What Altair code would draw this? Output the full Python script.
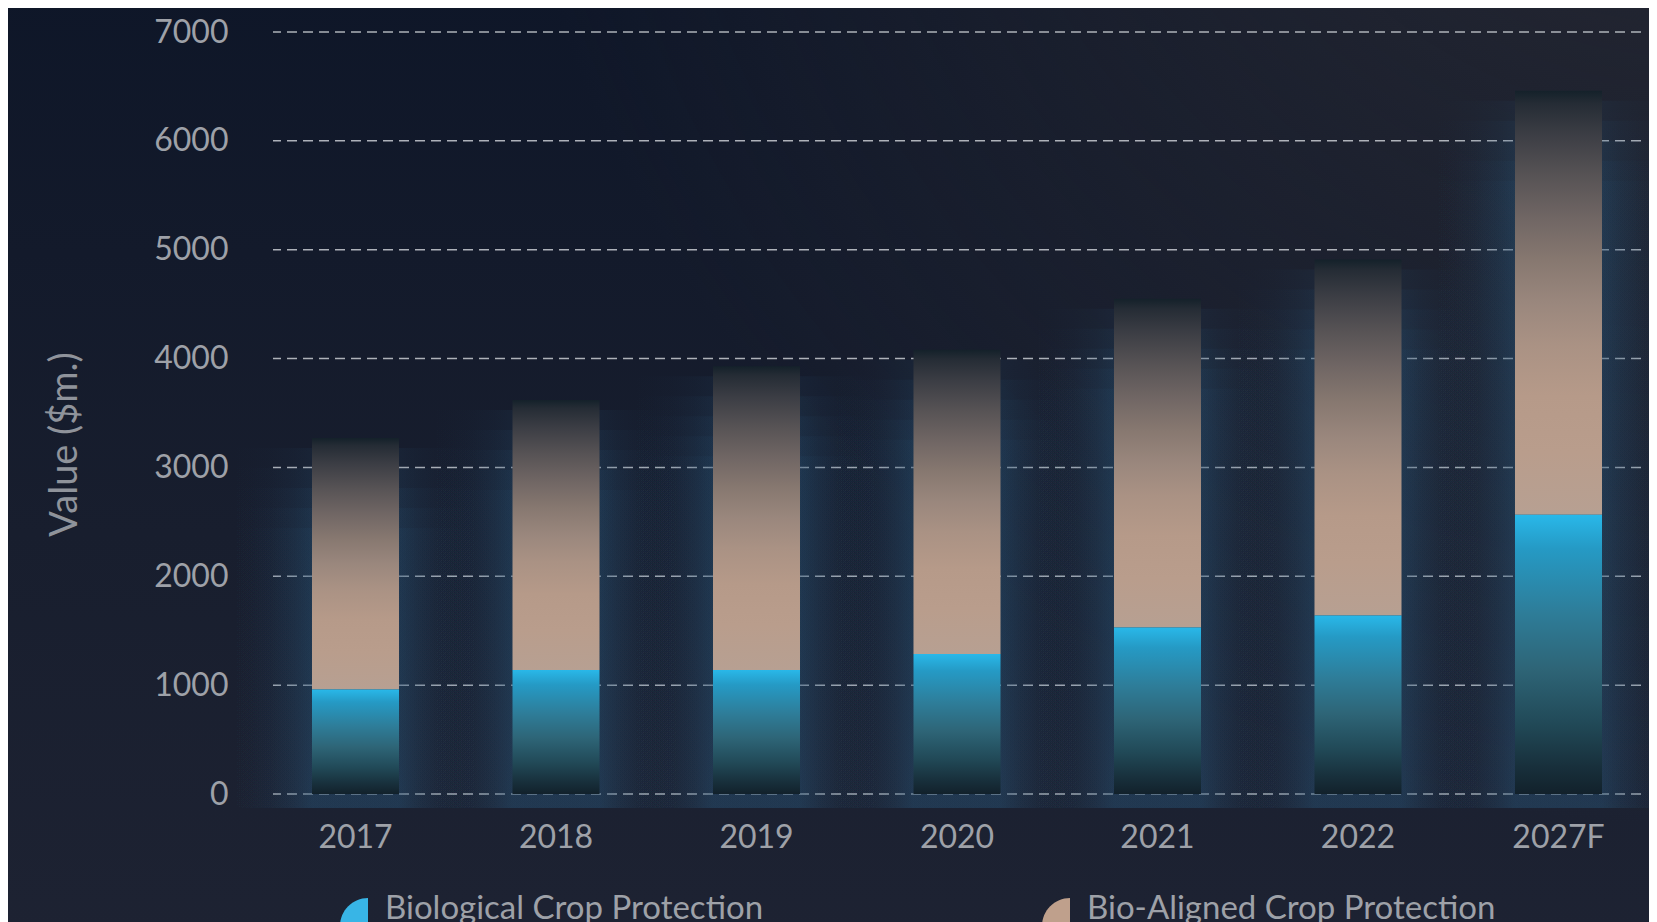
import altair as alt
import pandas as pd

# ---- data ----
years = ["2017", "2018", "2019", "2020", "2021", "2022", "2027F"]
biological = [960, 1140, 1140, 1285, 1530, 1640, 2565]
bio_aligned = [2310, 2480, 2790, 2795, 3020, 3270, 3895]
series = ["Biological Crop Protection", "Bio-Aligned Crop Protection"]
series_colors = ["#38b5e6", "#bfa08c"]
y_ticks = [0, 1000, 2000, 3000, 4000, 5000, 6000, 7000]

FONT = "Lato"
TXT = "#9ea1a8"

bars = pd.DataFrame({"year": years, "bio": biological, "aligned": bio_aligned})
bars["total"] = bars["bio"] + bars["aligned"]
bars["zero"] = 0

def lin(stops, x1=0, y1=0, x2=0, y2=1):
    return alt.LinearGradient(
        gradient="linear",
        stops=[alt.GradientStop(color=c, offset=o) for o, c in stops],
        x1=x1, y1=y1, x2=x2, y2=y2,
    )

def glow_col(a):
    return f"rgba(40,82,116,{a:.3f})"

blue_grad = lin([(0, "#29b8e9"), (0.12, "#259ac5"), (0.35, "#2e7d99"), (0.55, "#2e6577"),
                 (0.75, "#214957"), (0.9, "#18303c"), (1, "#12212b")])
tan_grad = lin([(0, "#14212a"), (0.03, "#252c35"), (0.1, "#3b3d44"), (0.2, "#575355"),
                (0.3, "#706664"), (0.4, "#877870"), (0.5, "#9a877d"), (0.6, "#aa9284"),
                (0.72, "#b69a89"), (0.85, "#b99d8c"), (1, "#b7a092")])

# soft side glow: horizontal fade, several stacked copies give a vertical fade-in
profile = [(0, 0), (0.08, 0.09), (0.16, 0.27), (0.25, 0.6), (0.324, 1),
           (0.676, 1), (0.75, 0.6), (0.84, 0.27), (0.92, 0.09), (1, 0)]
glow_alpha = 0.12
glow_grad = lin([(o, glow_col(glow_alpha * f)) for o, f in profile], x1=0, y1=0, x2=1, y2=0)
glow_offsets = [10, 30, 50, 70, 90]

bg_grad = lin([(0, "#0e1628"), (0.55, "#181e2e"), (1, "#1e2333")])
bg_glow = alt.RadialGradient(
    gradient="radial",
    stops=[alt.GradientStop(color="rgba(46,46,54,0.85)", offset=0),
           alt.GradientStop(color="rgba(46,46,54,0)", offset=1)],
    x1=1, y1=0, r1=0, x2=1, y2=0, r2=0.7,
)

xenc = alt.X(
    "year:N", sort=years,
    scale=alt.Scale(paddingInner=0.566, paddingOuter=0.1945),
    axis=alt.Axis(title=None, labelAngle=0, ticks=False, domain=False, grid=False,
                  labelFontSize=32, labelFont=FONT, labelColor=TXT, labelPadding=28,
                  zindex=1),
)
yscale = alt.Scale(domain=[0, 7000], nice=False)
yaxis = alt.Axis(values=y_ticks, format="d", ticks=False, domain=False, grid=False,
                 labelFontSize=32, labelFont=FONT, labelColor=TXT, labelPadding=45,
                 title="Value ($m.)", titleFontSize=38, titleFont=FONT, titleColor="#8f939b",
                 titleFontWeight="normal", titleAngle=270, titleX=-208, titleY=412,
                 titleAlign="center", titleBaseline="middle", zindex=1)

one = pd.DataFrame({"k": [0]})
bg = alt.Chart(one).mark_rect(fill=bg_grad).encode(
    x=alt.value(-300), x2=alt.value(1420), y=alt.value(-60), y2=alt.value(960))
bg2 = alt.Chart(one).mark_rect(fill=bg_glow).encode(
    x=alt.value(-300), x2=alt.value(1420), y=alt.value(-60), y2=alt.value(960))

grid = alt.Chart(pd.DataFrame({"v": y_ticks})).mark_rule(
    color="#c9ccd2", strokeWidth=1.5, strokeDash=[10, 6], opacity=0.85
).encode(y=alt.Y("v:Q", scale=yscale, axis=yaxis))

glows = [
    alt.Chart(bars).mark_bar(size=247, fill=glow_grad, y2Offset=off, yOffset=14).encode(
        x=xenc, y=alt.Y("zero:Q", scale=yscale), y2="total:Q")
    for off in glow_offsets
]

aligned_bar = alt.Chart(bars).mark_bar(fill=tan_grad).encode(
    x=xenc, y=alt.Y("bio:Q", scale=yscale), y2="total:Q")
bio_bar = alt.Chart(bars).mark_bar(fill=blue_grad).encode(
    x=xenc, y=alt.Y("zero:Q", scale=yscale), y2="bio:Q")

legend_layer = alt.Chart(pd.DataFrame({"series": series})).mark_point(
    size=0, filled=True
).encode(
    color=alt.Color("series:N", scale=alt.Scale(domain=series, range=series_colors),
                    legend=alt.Legend(
                        orient="none", legendX=53, legendY=866, direction="horizontal",
                        title=None, symbolType="M0.5,-1A1,1 0 0,0 0.5,1Z", symbolSize=3136,
                        symbolStrokeWidth=0, symbolOpacity=1,
                        labelFontSize=33, labelFont=FONT, labelColor=TXT,
                        labelBaseline="bottom", labelOffset=3, columnPadding=264,
                        labelLimit=0))
)

chart = alt.layer(bg, bg2, grid, *glows, aligned_bar, bio_bar, legend_layer).properties(
    width=1368, height=762,
    padding={"left": 265, "top": 24, "right": 8, "bottom": 138},
    autosize=alt.AutoSizeParams(type="none"),
).configure(background="#171d2c").configure_view(stroke=None)

chart.save("out.html", embed_options={"renderer": "svg", "actions": False})
